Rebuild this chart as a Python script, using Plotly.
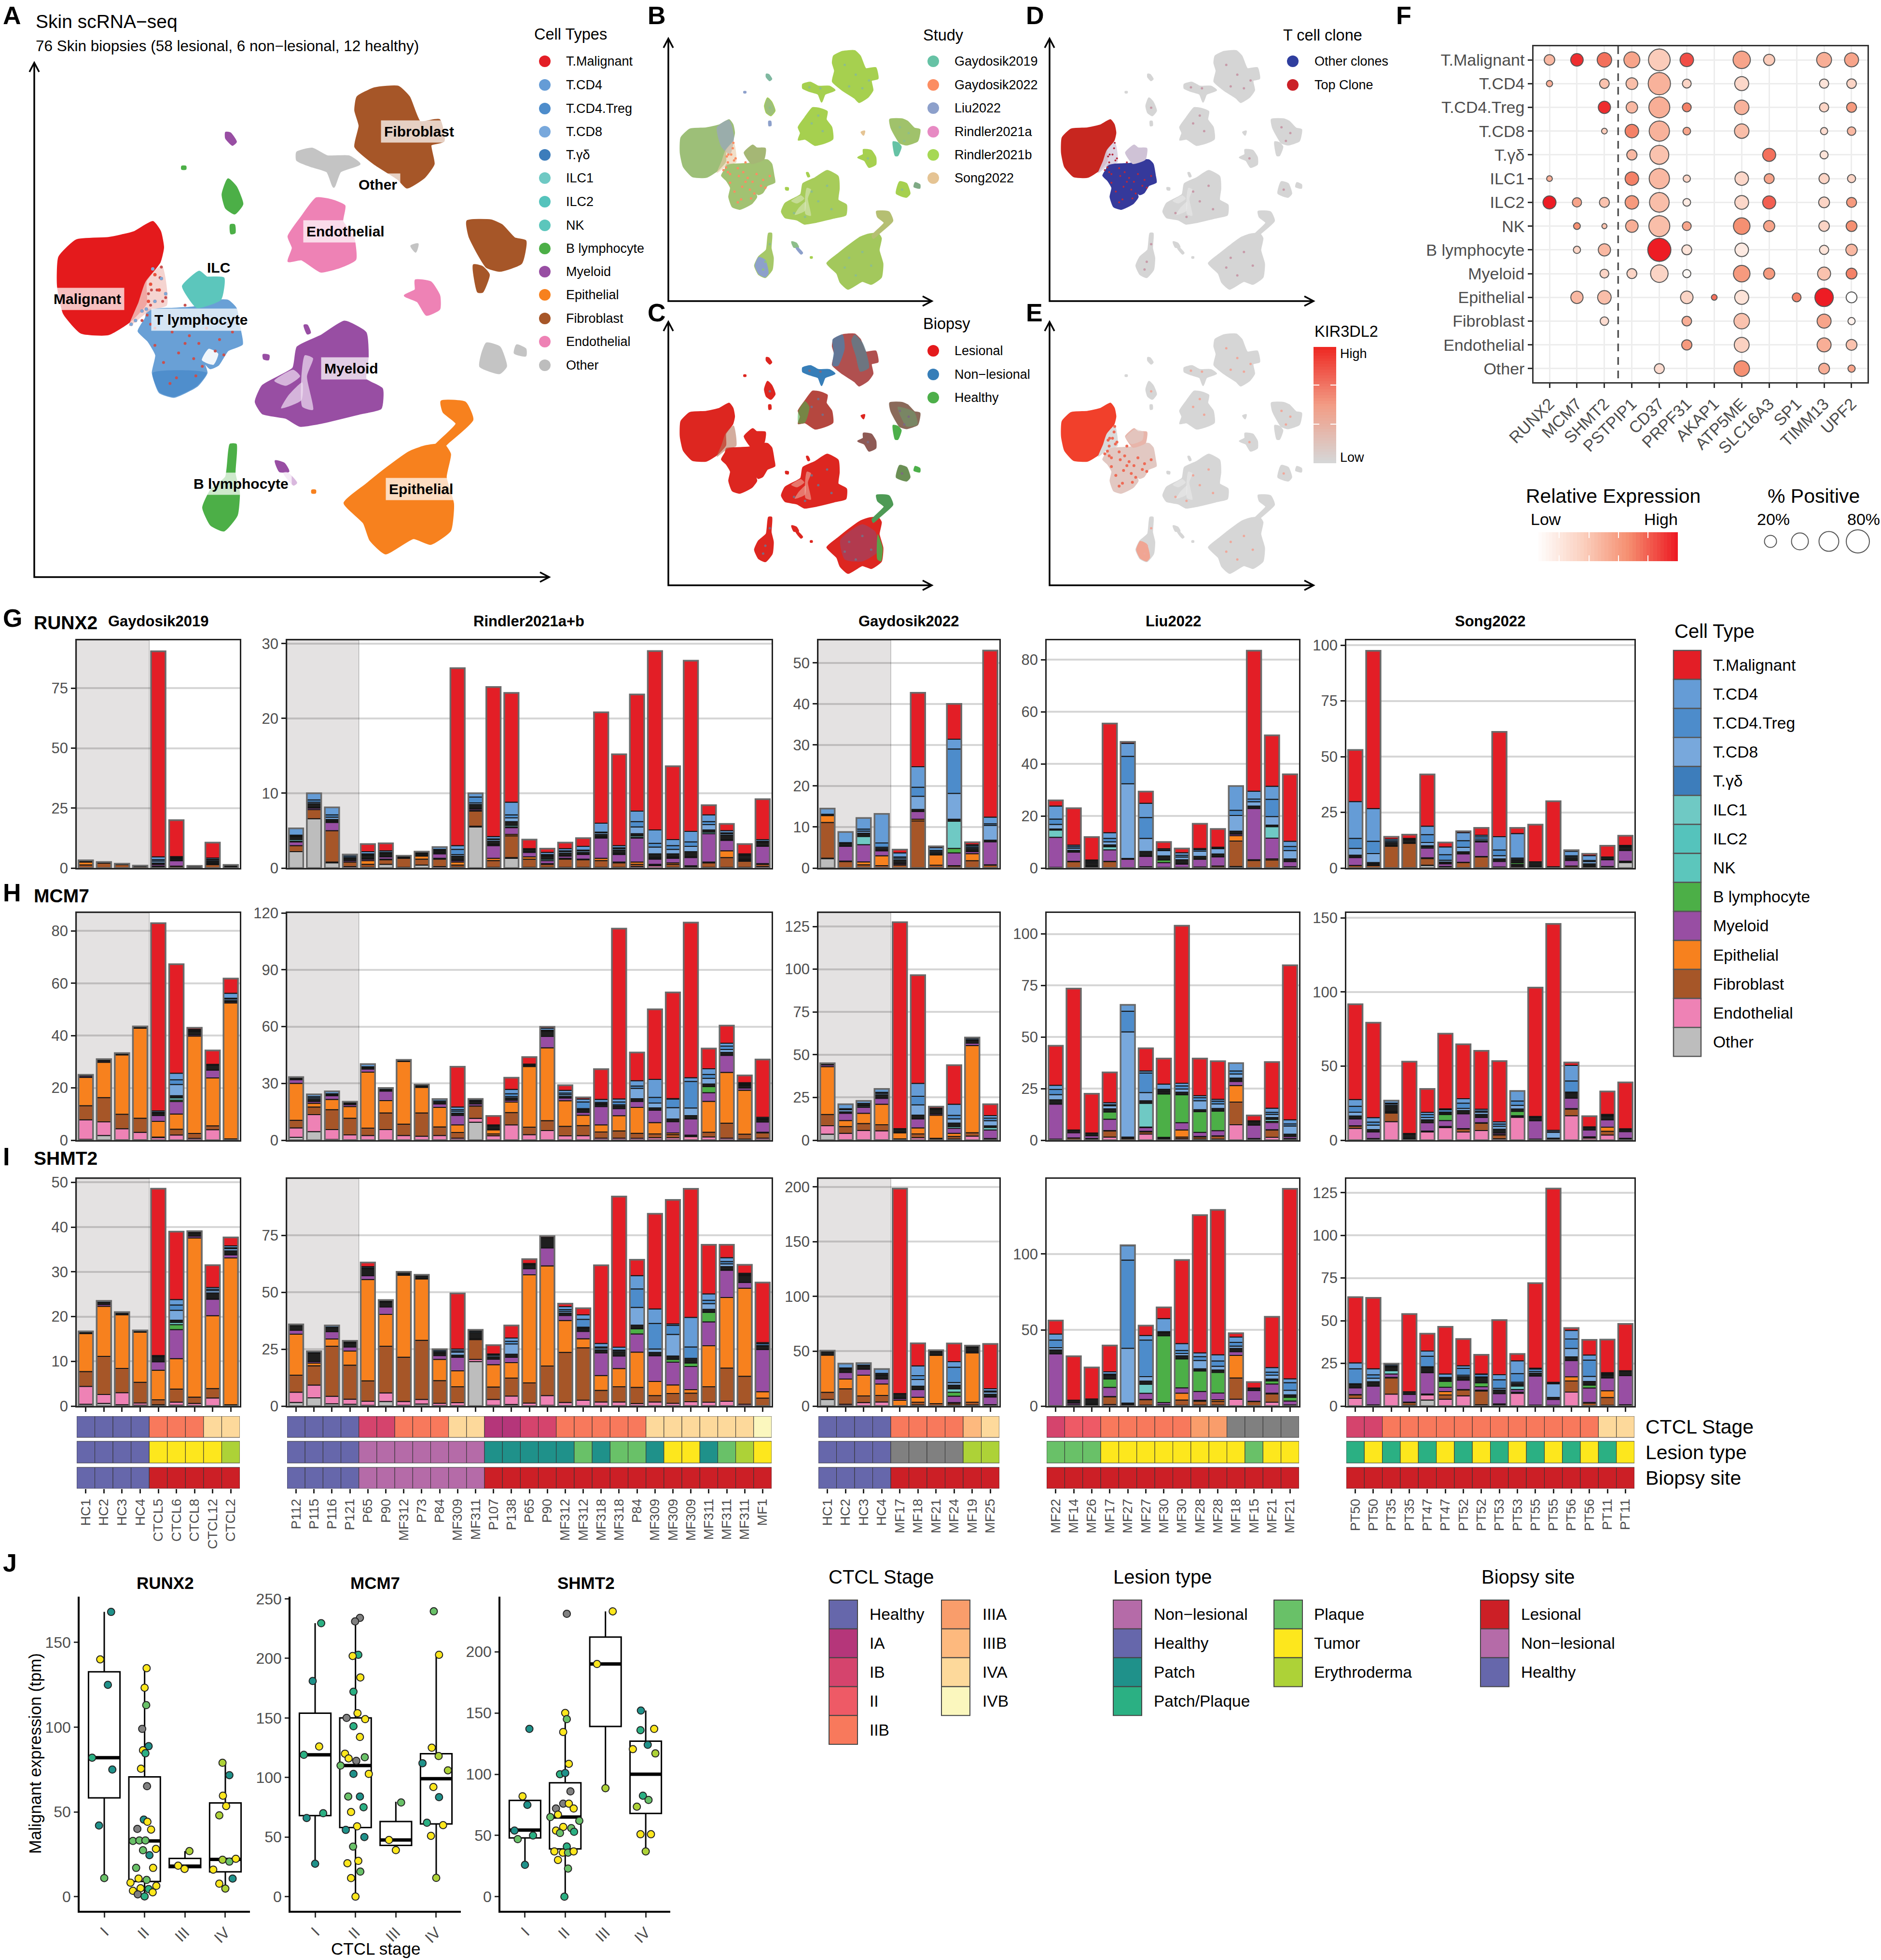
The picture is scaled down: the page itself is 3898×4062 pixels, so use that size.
import plotly.graph_objects as go

W, H = 3898, 4062
FONT = "Liberation Sans"
GRAY = "#4d4d4d"

# ---------- colours ----------
CELL_NAMES = ["T.Malignant", "T.CD4", "T.CD4.Treg", "T.CD8", "T.γδ", "ILC1", "ILC2", "NK", "B lymphocyte",
              "Myeloid", "Epithelial", "Fibroblast", "Endothelial", "Other"]
CELL_COLORS = ["#E31E26", "#659CD6", "#4D8CCB", "#78A8DC", "#3D7DBB", "#6FC9C4", "#55C3BC", "#5CC6BC", "#4CAF47",
               "#984EA3", "#F7811E", "#A65628", "#EE82B5", "#BDBDBD"]
# stack order of the bar rows, bottom to top. "dark" holds the many thin populations that read as a black band
STACK_NAMES = ["Other", "Endothelial", "Fibroblast", "Epithelial", "Myeloid", "B lymphocyte", "NK", "dark",
               "T.CD8", "T.CD4.Treg", "T.CD4", "T.Malignant"]
STACK_COLORS = ["#BDBDBD", "#EE82B5", "#A65628", "#F7811E", "#984EA3", "#4CAF47", "#6FC9C4", "#1E1E1E",
                "#78A8DC", "#4D8CCB", "#659CD6", "#E31E26"]
STAGE = {"H": "#6667AB", "IA": "#B5367A", "IB": "#D5446D", "II": "#EE5A66", "IIB": "#F8795C", "IIIA": "#F99D6B",
         "IIIB": "#FDB97E", "IVA": "#FDD99B", "IVB": "#FBF7BE", "NA": "#808080"}
LESION = {"NL": "#B56BA8", "H": "#6667AB", "P": "#1F918A", "PP": "#2BB083", "PQ": "#69C168", "T": "#FDE71D",
          "E": "#ADD237", "NA": "#808080"}
SITE = {"L": "#CC1F26", "NL": "#B56BA8", "H": "#6667AB"}

# ---------- panels G, H, I : rows follow STACK_NAMES ----------
RUNX2_GAY19 = [
 [0,.1,1.2,1.2,.2,0,0,.1,.1,.1,.2,0],[0,.1,1.9,.2,.1,0,0,.1,0,0,.1,0],[0,.1,1.3,.1,.1,0,0,.1,0,0,.1,0],
 [0,0,.6,.1,.1,0,0,.1,0,0,.1,0],[0,.2,.4,.2,.7,.1,.2,.3,.8,.6,1.2,85.7],[0,.1,.6,.1,2.2,.1,.2,.5,.4,.3,.3,15.2],
 [0,0,.3,.1,.1,0,0,.2,0,0,.2,0],[0,.1,1.3,.2,.4,0,.2,.6,.5,.3,.6,6.4],[0,.1,.3,.1,.2,0,0,.3,.1,0,.2,0]]
RUNX2_RIND = [
 [2.2,0,.8,0,.5,.1,.2,.4,.1,.1,.9,0],[6.6,0,1.2,0,.2,0,.1,.5,.2,.3,.9,0],[.7,.1,4.2,0,1.1,.1,.1,.2,.3,.3,1,0],
 [0,.2,.6,0,.2,0,.1,.2,.1,.2,.2,0],[0,.1,.4,.5,.2,0,.1,.4,.1,.1,.3,1],[.5,0,.6,.1,.3,0,.1,.3,.1,.1,.2,1],
 [0,.1,1.2,.1,.1,0,0,.1,.05,0,0,0],[.4,0,.8,.4,.1,0,0,.2,.1,.1,.1,0],[0,.2,1,.1,.6,.1,.1,.2,.1,.1,.3,0],
 [0,.1,.3,.4,.2,0,.1,.5,.2,.7,.5,23.7],[5.5,.1,2,.1,.2,0,.1,.5,.2,.8,.5,0],[0,.1,.9,.3,1.7,.1,.1,.4,.2,.1,.3,20],
 [1.3,.1,2.9,.2,.9,.1,.2,.5,.5,.4,1.7,14.6],[0,.1,1.1,.3,.6,0,.1,.3,.1,0,0,1.2],[0,.1,.4,.1,.4,0,.2,.4,.1,.1,.3,.5],
 [0,.1,1.1,.1,.3,0,.1,.3,.2,.1,.3,.8],[0,.1,1,.1,.6,0,.1,.2,.2,.1,.5,1.1],[0,.1,.9,.3,2.7,.1,.1,.3,.2,.1,1.2,14.8],
 [0,.1,.6,.1,1,.1,.1,.4,.2,.1,.3,12.2],[0,.2,.3,.3,3.2,.1,.2,.3,.9,.7,1.4,15.6],[0,.3,.1,.1,.7,.1,.1,.5,.9,.5,1.8,23.9],
 [0,.1,.4,.2,.6,.1,.1,.4,.6,.5,.8,9.8],[0,.1,.1,.1,1.1,0,.1,.7,.7,.6,1.4,22.8],[0,.1,.6,.1,3.8,0,.2,.3,.7,.4,.9,1.3],
 [0,.1,1.3,.9,1.4,0,.1,.6,.2,.1,.3,.9],[0,.1,.8,.1,.1,0,.1,.5,.1,0,.1,1.3],[0,.2,.3,.1,2.3,0,.1,.4,.1,.1,.2,5.4]]
RUNX2_GAY22 = [
 [2.3,.1,8.7,1.7,.1,0,0,.1,.1,0,1.4,0],[0,.1,1.5,.1,3.6,0,.1,.6,.1,.1,2.6,0],[0,.1,.7,.7,4.2,0,2,.8,.5,.5,2.7,0],
 [0,.1,.5,2.4,1.2,0,.1,.5,.3,1,7.1,0],[0,.1,.6,.1,.3,0,.1,.8,.4,.3,1,.8],[0,.1,11.4,.4,1.9,0,.1,.4,3.2,2.2,5,18],
 [0,.1,.6,2.5,.1,0,0,.5,.3,.2,.7,.3],[0,.1,.4,.1,3.1,1.1,6.6,.5,6.3,10.8,2.4,8.6],[0,.1,1.7,1.7,.5,.1,.1,.6,.3,.3,.3,.6],
 [0,.1,.6,.1,5.6,0,.1,.3,3.6,.4,1.6,40.6]]
RUNX2_LIU = [
 [0,.1,.1,.1,11.5,0,2.8,.4,1.8,2,5,2.2],[0,.1,2.3,.2,3.5,0,.1,.6,.8,.6,.6,14.2],[0,.1,.3,.1,.3,0,.1,1.2,.4,.3,.3,8.8],
 [0,.1,2.4,.1,4.4,0,1.2,.7,1.2,1.3,2.2,41.9],[0,0,.1,.1,3.2,0,0,.3,28.7,10.5,5,.6],[0,.3,.1,.1,4,.1,.1,1.7,5,8,5.5,4.5],
 [0,.1,.1,.1,1.8,1,.1,1.5,2,.3,.4,2.6],[0,.1,.1,.1,1.2,.1,.1,1.5,1,.7,1,1.6],[0,.1,.2,.1,3,0,.1,1,2,.6,.4,9.5],
 [0,.1,.6,.1,3.5,0,.1,1,2,.3,.3,7],[.5,.1,9.8,2,.6,0,.1,1.1,6,2,9.3,0],[0,.1,2.8,.3,19.7,0,.1,.8,1.7,1,3,54],
 [0,.1,3,.4,8,0,4.4,.6,3.3,6.6,5,19.6],[0,.1,.3,.1,2,0,.1,.9,3.2,1.6,2,25.7]]
RUNX2_SONG = [
 [0,.1,1,.1,3.5,0,.1,1,3,4.5,16.5,23.2],[0,.1,1,.2,.5,0,.1,.6,4,5.5,14.7,70.8],[0,.1,9.7,.1,.2,0,.1,1,.5,.6,.7,1],
 [0,.1,11,.2,.1,0,.1,1.2,.2,.2,.2,1.7],[1.2,.1,3,.3,4.4,0,.5,.5,1.5,3.5,3.8,23.2],[0,.2,.4,.1,1.2,0,.2,.6,.8,2.5,3.5,2],
 [0,.1,2.4,.1,3.8,0,.1,.8,2,3,3.6,.6],[0,.2,4.8,.2,6.5,0,.1,.5,.7,1,.7,3.3],[0,.1,.3,.1,2.5,0,.1,1,1.5,2.5,6,47],
 [0,.5,.5,.2,.5,.7,.3,.8,.5,.5,11,2.5],[0,.1,.2,.1,.3,0,.1,2,0,0,0,16.7],[0,.1,.1,.1,.1,0,0,.2,0,0,0,29.4],
 [0,.2,.6,.1,2.5,0,.1,1,.5,.5,2,.5],[0,.1,.3,.1,.3,0,.1,1,1,.5,2.2,.8],[0,.2,.4,.1,3,0,.1,1.2,0,0,0,5],
 [2.5,.1,.4,.1,4.8,0,.1,1.5,.3,.2,.2,4.3]]

MCM7_GAY19 = [
 [.3,7.5,5.4,10.8,.5,0,0,.3,0,0,.2,0],[1.8,5.2,9.3,13.5,.4,0,0,.4,.1,0,.3,0],[.2,4.2,5.5,22.7,.2,0,0,.3,0,0,.2,0],
 [.2,2.8,5.4,34.4,.1,0,0,.3,0,0,.3,0],[0,1,.2,6,2.2,0,.1,.7,.3,.2,.5,71.8],[0,2,2.2,5.8,4.8,.5,.9,.8,4.3,1.8,2.5,41.7],
 [0,.7,1.9,37.2,.5,0,0,1.2,.3,.2,.4,.6],[0,4,1.5,18.3,3,0,.1,1.7,0,.2,.2,5.3],[0,.2,.3,52,.4,0,.1,.4,.6,.3,1.9,5.6]]
MCM7_RIND = [
 [1.5,5,4,19.5,2,0,0,.5,.1,0,.2,.5],[4.5,9,4,2,1,0,.1,1,.7,.7,1.2,0],[.4,5.2,10.5,5.4,2,0,.1,.4,.3,.2,1.3,0],
 [.2,2.6,8.8,6.2,1,0,.1,.4,.3,.1,.6,0],[.1,2.4,3.9,29.5,1.7,0,0,.7,.3,.2,1.4,0],[.1,5.5,8.8,6.5,5,0,0,.7,.2,.1,.7,0],
 [.1,2.4,6,33,.2,0,0,.3,.1,0,.3,0],[.1,2,12.3,13.5,.4,0,0,.5,.1,0,.5,0],[.1,2.4,4.5,10.3,1.8,0,0,.8,.6,.2,1,0],
 [.1,1,3,4,5,.1,.1,1,1,.8,1.4,21.3],[9.5,2,6.5,.1,1,0,0,1.5,.3,.2,.6,.1],[.1,2.2,1,2.2,.3,0,0,1.8,.2,0,.3,4.7],
 [.1,8,6.5,5.5,1,.1,.1,1,.7,1.5,2.3,6.2],[.1,2.8,4,32,.5,0,0,.5,.1,0,.2,3.7],[.1,5,5.2,38.5,6,0,0,2.5,.5,.3,1,.8],
 [.1,2.2,5,13.5,1.5,0,.1,.7,1,.8,1.4,2.7],[.1,2.3,5.3,5.5,1.5,0,0,1.5,.5,3.5,1.5,.9],[.1,1,3.2,3.8,9.7,0,.1,1,.5,.6,1.5,16],
 [.1,1,3.8,8,3.8,0,.1,1.3,.6,1.5,1.6,89.9],[.1,.9,2.6,13.7,3.2,0,.1,1.3,5.5,1.2,2.8,14.9],[.1,1.2,2,6,6.5,0,.1,1.2,2.5,3,9.5,37],
 [.1,1.2,1.7,.8,6,0,.2,1.2,6,4.5,.3,56],[.1,1.8,.4,.4,8.5,0,.1,1.7,4,14,2,81.9],[.1,1.6,2.5,16.3,4.6,3.2,.2,1.2,3,2,3,10.7],
 [.1,1,7.9,26.8,9,0,.1,1.5,1.5,1.8,1.5,9.3],[.1,.5,2.6,23.2,1.2,0,.1,1.2,.5,.5,.5,3.8],[.1,1,2.8,.3,5.4,0,.1,1,.5,.3,.6,30.5]]
MCM7_GAY22 = [
 [3.5,5,6.5,28,1,0,0,.5,0,0,.5,0],[.2,3.8,4,3.5,4.2,0,.1,.8,1.2,.6,2.6,0],[.2,5.5,4,6,3.5,0,.7,.5,.6,.5,1.5,0],
 [.2,5.3,3.5,12,3.5,0,.1,2,.8,.6,2,0],[0,.5,.3,3.5,.4,0,0,1.8,0,0,.3,120.7],[0,1.5,2.2,3.5,5.2,0,.1,2.2,6,5,7.5,63.3],
 [0,.5,.6,13.5,.8,0,0,2.5,.3,.2,.3,.9],[0,.7,1.5,1.8,3,0,1,2,2.5,2,6.5,22.9],[0,2.4,2,51,1.3,0,0,1.5,.3,.2,.8,.5],
 [0,.3,.5,.2,5,0,1.5,.9,3,1.5,1.5,6.6]]
MCM7_LIU = [
 [0,.2,.2,.1,17,0,.1,2,2.5,2.5,2,19.2],[0,.2,.8,.1,2.5,0,0,1.2,0,0,.2,68.5],[0,.5,.3,.1,1.2,0,0,1.2,0,0,.2,19],
 [0,1.5,3,.2,5.5,3.5,0,1.5,1.5,.5,1,14.7],[0,.1,.7,.1,.2,0,0,.4,51,10,3,.1],[0,3,1,.3,1.8,.3,11.5,1.2,4,9.5,1,11],
 [0,.5,.5,.2,.2,21,.1,1.2,.5,.5,2.5,12.4],[0,.7,.8,3.5,3.5,13.5,.1,1.2,1.5,1.5,1.3,76.4],[0,.6,1,.2,2,10,.1,.9,4.3,1.5,1,18],
 [0,.5,1.5,.1,2.5,9.5,.1,1.2,2.2,1.3,.9,18.5],[0,7.5,11,8,2,0,.1,1.5,2,1.5,3.8,0],[0,.3,.4,.1,6.5,0,.1,1.5,.2,.1,.2,2.6],
 [0,1.4,3.5,.2,3.5,.5,1,.9,1.5,1,2,22.4],[0,.3,.3,.2,1,0,.1,1,4,1,2,74.9]]
MCM7_SONG = [
 [0,8,1.5,.3,4.5,0,.1,2,2.5,4,4.5,64.4],[0,.5,.4,.2,4.5,0,.1,1.5,3,2,3,64.1],[0,12.5,5.8,.5,.5,0,.2,4,.9,.6,1.7,0],
 [0,.3,.4,.1,.6,0,.1,2.5,.2,.1,.3,48.4],[0,5.5,.5,.2,5.5,0,.1,2,1.5,2,1.5,15.8],[0,8.5,.6,.2,4,4,.5,.8,.4,1.5,.7,50.7],
 [0,5.5,2,.3,10,.1,.1,2,1.5,3.5,3,36.7],[0,6.5,5,.3,3.5,0,.1,2,1.5,.8,1.2,39.4],[0,1,2.5,.3,1,0,.1,2.5,2,1.5,1.5,41],
 [0,15.5,.5,.2,.3,3,.1,1.5,2.4,3,6.7,0],[0,.3,.2,.2,12.5,0,.1,2,.3,.1,.3,87],[0,.1,.1,.1,.1,0,0,1,4,.3,1,139.3],
 [0,16.5,4.5,.3,7,0,.1,3.5,.6,7.5,10.5,1.9],[0,1.5,.6,.2,4.5,0,.1,1.5,.2,.1,.3,7.2],[0,3.5,2.5,2.8,5,0,.1,2.5,.4,.2,.4,15.5],
 [0,.5,.5,.3,4.5,0,.1,1.2,.2,.1,.3,31.3]]

SHMT2_GAY19 = [
 [.4,4,3.3,8.5,0,0,0,.3,0,0,.2,0],[.6,2,8.5,11.2,.4,0,0,.5,0,0,.3,0],[.3,2.7,5.4,12,.1,0,0,.4,0,0,.1,0],
 [.2,.5,4.6,11.2,.1,0,0,.2,0,0,.1,0],[.1,.2,1.1,6.6,1.9,0,.1,1,.1,.1,.1,37.3],[.2,.7,2.9,6.8,6.5,1.1,.5,.5,2.2,1.2,1.2,15.2],
 [.1,.5,1.4,35.6,.4,0,0,.7,.1,0,.1,.2],[.1,1.7,2.1,16.3,3.7,0,.1,1.3,.5,.3,.4,5],[0,.1,.2,32.8,.7,0,.1,.8,.5,.2,.4,1.9]]
SHMT2_RIND = [
 [1.6,4.5,7.5,18,1.7,0,0,2,.2,0,.4,0],[3.6,5.6,8.5,1.2,.6,0,.1,3.5,.2,.2,.6,0],[1,3.3,22,3.2,3.2,0,0,1.8,.2,0,.7,0],
 [.8,2.2,15,6.2,1.8,0,0,1.7,.4,.2,.4,0],[.3,1.8,9,44.5,1.7,0,0,3,.3,.2,.5,1.8],[2,3.8,20.5,14,3.3,0,0,2,.3,.2,.5,0],
 [.3,1.7,19.5,36,.3,0,0,1,.1,0,.1,0],[.9,2,26,27,.2,0,0,1.2,.1,0,.3,0],[.2,1,10,9.3,1.7,0,.1,.8,.5,.5,.5,.4],
 [.2,1.3,7,7,6,0,.1,.8,1.3,.6,.8,24.4],[19.5,1,8.7,.1,.3,0,0,2.8,.5,.2,.4,0],[.3,2.6,5.5,9.8,2.4,0,.1,1,.6,.3,.3,3.9],
 [.7,3.7,7.9,6.8,2.3,0,.1,1.3,4.5,1.2,1.4,5.5],[0,1.3,8.9,47.5,2.7,0,0,1.7,.2,.1,.3,1.9],[.3,4.3,13,44,7.9,0,0,4.5,.1,0,.1,.5],
 [.2,1.4,22,14,2.2,0,.1,1,.8,.7,1.3,1.3],[.1,2.5,23,4,3.2,0,0,1.5,.4,3.4,2,2.9],[.1,1.7,5.1,6.5,10,0,.1,1.2,.8,.5,1.5,34.4],
 [.1,1.7,6.7,8,5.5,0,.1,1.8,.5,.2,1.3,66.2],[.1,1,7.1,15.5,8,2.3,.1,1.5,7.8,8.1,5.8,7],[.1,1.7,2.8,6.2,11.3,0,.1,1.4,1.5,11.2,6.4,41.8],
 [.1,1.1,4.3,3.8,10,1.2,.1,1.4,9.5,4,.6,54.5],[.1,1.8,3.8,1.5,10.2,1.5,.1,1.5,.5,5,13,56.5],[.1,1.6,6.8,18,10.5,4.2,.1,1.2,2.5,1.5,2.8,21.6],
 [.1,2,14.6,31,12,0,.1,1.5,1.2,1,1.7,5.7],[.1,.7,12.3,38.7,2.5,0,.1,3,.3,.2,.5,3.7],[.1,0,3.4,2.8,18.5,0,.1,1.4,.3,.8,.5,26.4]]
SHMT2_GAY22 = [
 [6,0,6.5,34,0,0,0,3.5,0,0,.5,0],[.5,1.2,14,9,6,0,.1,3,.5,.5,4,0],[.2,3,6,19,5.5,0,.1,3,.3,.2,1.9,0],
 [.2,3.5,6,10.5,4.5,0,.1,3.5,1,.5,4,0],[0,0,.3,5,1.5,.2,.5,3.5,.2,0,.3,187],[0,1,2.5,4.5,7,0,.2,3,6,3.5,9,20.5],
 [0,.2,2,44,.5,0,0,3,.3,.1,.5,.4],[0,1,1.5,.7,5.8,3.7,3,3.3,2.5,14,5,16.6],[0,1,2.5,45,1,0,0,4,.3,.1,.4,.9],
 [0,.4,.8,.1,7,0,.5,2,2,1,2,40.9]]
SHMT2_LIU = [
 [0,.1,.1,.1,34,0,.1,2.5,1.5,5,4,8.9],[0,.4,.3,.2,1,0,.1,1.8,0,0,.1,28.9],[0,.3,.3,.1,.5,0,0,3.5,0,0,0,20.7],
 [0,1,5,.3,6,5.5,.1,2.5,.3,.3,1.5,17.3],[0,.1,.5,.1,.3,0,0,1,36,58,9.5,.3],[.1,.5,3.5,.3,4,0,6,2,3,24,3,6.5],
 [0,.2,.5,.1,1.5,44,.1,1.8,.5,.3,8.5,7.4],[0,.5,3.5,4.5,3.5,19,.1,2,1.5,2,4.5,55],[0,.6,2.6,.6,5.8,13.5,.1,1.3,5.5,2.5,2.5,90.6],
 [0,.6,2.5,1,4.5,13.5,.1,1.5,2.5,3.5,4,95.3],[0,4.5,14,14.8,2.5,0,.1,2,1.5,2.5,3.5,2.5],[0,.2,2.8,.2,7,0,.1,1.4,.1,0,.1,3.9],
 [0,2.5,5.5,.5,6,2,.1,1.2,2.5,2,3,33.4],[0,.3,.3,.2,2.5,2.5,.1,1.5,3,5,2.5,125]]
SHMT2_SONG = [
 [0,4.5,2,.2,4,0,.1,2,.3,8.7,3.5,38.5],[0,.3,.2,.2,11,0,.1,2.5,2,2,3.5,41.6],[0,7,9.5,.3,2,0,2,2,.4,.4,.8,.4],
 [0,.5,1.5,.3,4.5,0,.1,1.5,0,0,0,45.5],[3.5,3,.3,.3,12.5,0,.1,3,.3,6.2,3,10.2],[0,4,2.5,2,2.5,3.5,.5,1,.3,.5,2,27.6],
 [0,6,3.5,.2,5.5,0,.1,2,.8,4,1.5,15.7],[0,.8,8,.5,2,2.3,.1,3,.4,1.5,.2,11.2],[0,.5,.5,.3,6,0,.1,2,1,5,3,32],
 [0,7.5,.4,.2,1.5,.1,2,1.5,.8,5,7.5,4],[0,.2,.2,.2,17,0,.1,1.5,1,1.5,.5,49.8],[0,.1,.2,.1,3.5,0,0,1.2,8,.3,.5,113.5],
 [0,8.2,6.5,2.5,9.5,0,.1,2,5,5.5,5,1.4],[0,.3,1.5,.3,8.5,1.7,.1,2,3,9.5,3,8.9],[0,.5,4.5,4,7.5,0,.1,1.5,.5,.5,.5,19.3],
 [0,.3,.3,.2,17,0,.1,2.5,.1,.1,.1,27.4]]

STUDIES = ["Gaydosik2019", "Rindler2021a+b", "Gaydosik2022", "Liu2022", "Song2022"]
SAMPLES = [
 ["HC1","HC2","HC3","HC4","CTCL5","CTCL6","CTCL8","CTCL12","CTCL2"],
 ["P112","P115","P116","P121","P65","P90","MF312","P73","P84","MF309","MF311","P107","P138","P65","P90","MF312","MF312",
  "MF318","MF318","P84","MF309","MF309","MF309","MF311","MF311","MF311","MF1"],
 ["HC1","HC2","HC3","HC4","MF17","MF18","MF21","MF24","MF19","MF25"],
 ["MF22","MF14","MF26","MF17","MF27","MF27","MF30","MF30","MF28","MF28","MF18","MF15","MF21","MF21"],
 ["PT50","PT50","PT35","PT35","PT47","PT47","PT52","PT52","PT53","PT53","PT55","PT55","PT56","PT56","PT11","PT11"]]
STAGE_ROWS = [
 ["H"]*4+["IIB"]*3+["IVA"]*2,
 ["H"]*4+["IB"]*2+["IIB"]*3+["IVA"]*2+["IA"]*2+["IB"]*2+["IIB"]*5+["IVA"]*6+["IVB"],
 ["H"]*4+["IIB"]*4+["IIIB","IVA"],
 ["IB","II","II"]+["IIB"]*5+["IIIA"]*2+["NA"]*4,
 ["IB"]*2+["IIB"]*12+["IVA"]*2]
LESION_ROWS = [
 ["H"]*4+["T"]*4+["E"],
 ["H"]*4+["NL"]*7+["P"]*5+["PQ","P","PQ","PQ","P","T","T","P","PQ","E","T"],
 ["H"]*4+["NA"]*4+["E"]*2,
 ["PQ"]*3+["T"]*8+["PQ","T","T"],
 ["PP","T"]*8]
SITE_ROWS = [
 ["H"]*4+["L"]*5,
 ["H"]*4+["NL"]*7+["L"]*16,
 ["H"]*4+["L"]*6,
 ["L"]*14,
 ["L"]*16]
HEALTHY_COUNT = [4, 4, 4, 0, 0]

GENE_ROWS = [
 ("RUNX2", [RUNX2_GAY19, RUNX2_RIND, RUNX2_GAY22, RUNX2_LIU, RUNX2_SONG],
  [[0,25,50,75],[0,10,20,30],[0,10,20,30,40,50],[0,20,40,60,80],[0,25,50,75,100]], [95.0,30.43,55.5,87.5,102.2], 1327, 1799),
 ("MCM7", [MCM7_GAY19, MCM7_RIND, MCM7_GAY22, MCM7_LIU, MCM7_SONG],
  [[0,20,40,60,80],[0,30,60,90,120],[0,25,50,75,100,125],[0,25,50,75,100],[0,50,100,150]], [86.9,120,132.9,110.2,153.4], 1892, 2363),
 ("SHMT2", [SHMT2_GAY19, SHMT2_RIND, SHMT2_GAY22, SHMT2_LIU, SHMT2_SONG],
  [[0,10,20,30,40,50],[0,25,50,75],[0,50,100,150,200],[0,50,100],[0,25,50,75,100,125]], [50.8,99.9,207.4,149.5,133.1], 2443, 2914)]
STUDY_X = [(159,497),(595,1599),(1696,2071),(2169,2692),(2790,3387)]

# ---------- panel F ----------
DOT_GENES = ["RUNX2","MCM7","SHMT2","PSTPIP1","CD37","PRPF31","AKAP1","ATP5ME","SLC16A3","SP1","TIMM13","UPF2"]
_ = None
DOT_PCT = [
 [17,24,32,39,72,28,_,46,19,_,34,30],[6,_,14,21,76,12,_,30,_,_,13,14],[_,_,23,20,67,12,_,32,_,_,13,15],
 [_,_,5,28,63,9,_,32,_,_,8,11],[_,_,_,16,55,_,_,_,26,_,10,_],[5,_,_,28,63,8,_,28,15,_,16,10],
 [26,13,15,28,59,9,_,29,26,_,18,15],[_,7,4,24,67,12,_,42,19,_,17,18],[_,8,23,_,82,15,_,28,_,_,13,20],
 [_,_,12,15,47,10,_,42,19,_,26,18],[_,23,28,_,_,24,5,30,_,12,52,18],[_,_,11,_,_,14,_,37,_,_,30,8],
 [_,_,_,_,_,16,_,34,_,_,30,18],[_,_,_,_,15,_,_,37,_,_,18,8]]
DOT_EXPR = [
 [.45,.95,.75,.55,.35,.85,_,.55,.35,_,.5,.55],[.5,_,.4,.42,.48,.3,_,.28,_,_,.2,.3],[_,_,.95,.45,.5,.7,_,.48,_,_,.3,.6],
 [_,_,.35,.7,.48,.55,_,.42,_,_,.25,.45],[_,_,_,.45,.4,_,_,_,.75,_,.2,_],[.5,_,_,.7,.45,.3,_,.28,.55,_,.3,.3],
 [1,.55,.4,.6,.42,.15,_,.28,.8,_,.3,.6],[_,.65,.4,.5,.42,.55,_,.65,.55,_,.3,.65],[_,.3,.45,_,1,.2,_,.15,_,_,.2,.45],
 [_,_,.3,.3,.3,.05,_,.6,.6,_,.4,.7],[_,.45,.42,_,_,.3,.75,.2,_,.7,1,0],[_,_,.25,_,_,.5,_,.4,_,_,.55,.1],
 [_,_,_,_,_,.6,_,.32,_,_,.5,.4],[_,_,_,_,.25,_,_,.65,_,_,.5,.55]]

# ---------- panel J : (stage, jitter, tpm, lesion type) ----------
RUNX2_POINTS = [
 (1,.17,168,"P"),(1,-.10,140,"T"),(1,.09,125,"P"),(1,-.30,82,"PP"),(1,.20,75,"P"),(1,-.13,42,"P"),(1,0,11,"PQ"),
 (2,.05,134.8,"T"),(2,0,123.3,"T"),(2,.04,113,"PQ"),(2,-.06,99,"NA"),(2,.10,88.8,"P"),(2,-.04,86.4,"T"),(2,.02,84.6,"PP"),
 (2,-.09,75.5,"T"),(2,.06,65.2,"NA"),(2,-.02,45.5,"P"),(2,.07,44.2,"T"),(2,-.18,40,"NA"),(2,.16,39.6,"T"),(2,-.29,32.9,"PQ"),
 (2,-.13,33.2,"PQ"),(2,.02,33.2,"PQ"),(2,-.04,27.4,"PQ"),(2,.28,28.2,"T"),(2,.12,24.5,"P"),(2,-.21,17,"PQ"),(2,.21,17,"T"),
 (2,-.15,10.7,"T"),(2,.05,9.9,"PQ"),(2,-.35,8.3,"T"),(2,-.29,3.5,"T"),(2,-.10,5,"T"),(2,.10,4.5,"PP"),(2,.29,6.4,"T"),
 (2,.2,2.6,"T"),(2,-.17,1.4,"NA"),(2,0,.2,"PP"),
 (3,.11,26.9,"E"),(3,-.17,18.3,"T"),(3,-.01,16.4,"T"),
 (4,-.07,79,"E"),(4,.1,71.7,"P"),(4,-.06,59.6,"T"),(4,.02,53.5,"T"),(4,-.15,48,"E"),(4,-.07,21.8,"E"),(4,.1,20.7,"PQ"),
 (4,.26,22.4,"T"),(4,-.3,16,"T"),(4,-.15,7.7,"T"),(4,.18,10.7,"P"),(4,0,4.8,"E")]
MCM7_POINTS = [
 (1,.15,229.5,"PP"),(1,-.06,181,"P"),(1,.1,126,"T"),(1,-.28,119,"PP"),(1,.2,70,"PP"),(1,-.21,66,"P"),(1,0,27.6,"P"),
 (2,.11,234,"NA"),(2,-.01,231,"NA"),(2,.07,203,"PP"),(2,-.07,202,"T"),(2,.12,184,"T"),(2,-.05,172,"PP"),(2,.05,154,"T"),
 (2,-.22,150,"NA"),(2,.24,149,"T"),(2,-.05,143,"PP"),(2,.11,134,"T"),(2,-.26,120,"T"),(2,-.17,116,"T"),(2,.23,117,"PQ"),
 (2,.02,114,"NA"),(2,-.37,110,"PQ"),(2,-.05,103,"P"),(2,.33,103,"T"),(2,-.18,84,"PQ"),(2,.11,84,"P"),(2,.2,75,"PP"),
 (2,-.11,71,"T"),(2,.04,59,"T"),(2,-.24,56,"P"),(2,.22,50,"P"),(2,-.06,42,"PQ"),(2,.07,30,"T"),(2,-.2,28,"T"),(2,.12,21,"PQ"),
 (2,-.11,15.5,"T"),(2,0,0,"T"),
 (3,.13,79,"PQ"),(3,-.17,47.5,"T"),(3,0,39,"T"),
 (4,-.06,239.5,"PQ"),(4,.07,203,"T"),(4,-.11,125,"T"),(4,.06,118,"E"),(4,-.34,112,"P"),(4,.29,106,"E"),(4,-.07,92,"T"),
 (4,.07,83.5,"P"),(4,-.23,62,"PP"),(4,.17,60,"T"),(4,-.13,51,"T"),(4,0,15.7,"E")]
SHMT2_POINTS = [
 (1,.11,137,"P"),(1,-.06,82,"T"),(1,.06,75,"P"),(1,-.26,54,"P"),(1,.2,50,"PP"),(1,-.18,47,"PQ"),(1,0,26,"P"),
 (2,.04,231,"NA"),(2,0,150,"T"),(2,.04,145,"PQ"),(2,-.05,134.5,"T"),(2,.09,108.5,"T"),(2,-.13,100,"PP"),(2,0,101,"P"),
 (2,.13,86,"NA"),(2,-.23,72,"NA"),(2,-.05,76,"NA"),(2,.09,76,"T"),(2,.21,72,"T"),(2,-.18,67,"T"),(2,-.37,65,"PQ"),
 (2,.35,62,"PQ"),(2,-.05,57,"T"),(2,.15,56,"PQ"),(2,-.23,54,"T"),(2,.22,53,"PP"),(2,-.13,52,"PQ"),(2,.04,41,"PP"),
 (2,-.27,37,"T"),(2,-.06,36,"T"),(2,.07,36,"PQ"),(2,.21,37,"T"),(2,-.18,30,"T"),(2,.07,23,"PQ"),(2,-.02,0,"PP"),
 (3,.18,233,"T"),(3,-.21,190,"T"),(3,0,88.6,"E"),
 (4,-.12,152,"P"),(4,-.13,136,"PP"),(4,.21,137,"T"),(4,.05,124,"P"),(4,-.32,120.5,"T"),(4,.24,117,"E"),(4,-.07,82.5,"PP"),
 (4,.07,79,"PQ"),(4,-.22,73.5,"E"),(4,-.13,51,"T"),(4,.13,51,"T"),(4,0,37,"E")]
# q1, median, q3, lower whisker, upper whisker for stages I..IV
RUNX2_BOX = dict(q1=[58.3,9,17.2,14.7], med=[82,32.9,18,22], q3=[132.7,70.7,22.6,55.3], lo=[11,0,17.2,4.8], hi=[168,134.8,26.9,79])
MCM7_BOX = dict(q1=[68,58,43,61], med=[119,110,47.5,99], q3=[154,150,63,120], lo=[27.6,0,39,15.7], hi=[229.5,234,79.6,203])
SHMT2_BOX = dict(q1=[48,39,139,68], med=[54.4,65,190,100], q3=[78.6,93,212,127], lo=[26,0,88.6,37], hi=[78.6,150,233,152])
ROMAN = ["I","II","III","IV"]

# ---------- panels A to E : UMAP cluster outlines (x right, y down) ----------
U_MAL = [(138,674),(178,630),(252,624),(311,609),(355,582),(372,607),(379,649),(371,687),(339,737),(339,796),(301,843),(252,876),(189,872),(149,822),(135,750)]
U_T = [(344,813),(404,809),(453,805),(469,792),(529,788),(548,809),(558,868),(562,902),(529,918),(507,956),(488,965),(471,944),(480,977),(458,1011),(404,1040),(371,1028),(355,977),(363,931),(344,893),(322,868),(339,834)]
U_ILC = [(425,750),(463,712),(480,727),(519,729),(512,784),(458,805),(436,775)]
U_ENDO = [(670,620),(700,570),(735,520),(770,525),(800,540),(795,580),(820,620),(825,680),(790,700),(745,712),(700,680),(670,685),(680,650)]
U_FIB = [(825,290),(830,255),(870,232),(925,228),(950,255),(975,320),(1020,315),(1030,370),(1000,380),(1007,430),(985,465),(945,492),(925,470),(870,430),(825,385),(835,330)]
U_OTHER = [(690,400),(725,390),(760,410),(810,410),(835,430),(790,450),(775,490),(760,450),(720,435),(690,420)]
U_MYE = [(594,1053),(610,1011),(681,965),(691,910),(746,880),(800,843),(849,872),(854,935),(849,994),(887,1019),(884,1070),(838,1083),(746,1108),(697,1116),(664,1095),(610,1083)]
U_EPI = [(800,1318),(850,1270),(900,1225),(950,1185),(985,1170),(1030,1165),(1045,1190),(1035,1250),(1052,1320),(1045,1390),(1000,1425),(960,1410),(895,1450),(860,1415),(845,1370)]
U_EPI2 = [(1025,1052),(1080,1055),(1097,1100),(1040,1160),(1010,1190),(1005,1175),(1060,1110),(1030,1080)]
U_B = [(535,1165),(548,1165),(545,1240),(555,1290),(550,1350),(520,1390),(490,1375),(472,1330),(490,1285),(525,1250)]
U_B2 = [(530,470),(548,490),(563,535),(545,560),(525,545),(517,510)]
U_B3 = [(536,590),(544,590),(545,610),(537,612)]
U_FIB2 = [(1085,580),(1140,578),(1165,590),(1195,625),(1220,632),(1210,690),(1160,710),(1130,700),(1110,665),(1090,620)]
U_FIB3 = [(1100,695),(1120,700),(1135,720),(1120,765),(1110,765)]
U_ENDO2 = [(965,735),(1000,740),(1020,775),(1020,810),(990,825),(970,790),(940,775),(965,760)]
U_OTH2 = [(1130,900),(1160,910),(1175,960),(1160,978),(1115,960),(1120,925)]
U_OTH3 = [(1200,905),(1220,915),(1220,932),(1195,925)]
U_OTH4 = [(955,645),(970,640),(965,660)]
U_MY2 = [(525,348),(535,350),(548,372),(540,380),(525,362)]
U_MY3 = [(640,1208),(660,1215),(670,1235),(650,1235)]
U_MY4 = [(660,1240),(668,1240),(688,1265),(682,1270)]
U_MY5 = [(707,853),(713,853),(720,872),(714,874)]
U_MY6 = [(612,930),(624,932),(623,942),(613,940)]
U_DOT1 = [(423,437),(431,437),(431,443),(423,443)]
U_DOT2 = [(725,1285),(732,1285),(732,1291),(725,1291)]
GAP_1 = [(708,931),(727,939),(713,986),(727,1074),(702,1066),(700,986)]
GAP_2 = [(637,998),(681,969),(697,986),(664,1011)]
GAP_3 = [(670,1036),(702,1002),(700,1049),(653,1070)]
GAPS = (GAP_1, GAP_2, GAP_3)
NOTCH_T = [(469,944),(485,914),(507,927),(496,956)]
MIX_MT = [(339,737),(376,695),(388,800),(350,813),(300,855),(322,792)]
LOW_T = [(355,977),(480,977),(458,1011),(404,1040),(371,1028)]
PATCH_MAL_TOP = [(300,620),(355,582),(378,670),(360,760),(320,720)]
PATCH_B_LOW = [(490,1285),(520,1300),(535,1370),(520,1390),(490,1375),(472,1330)]
PATCH_FIB_L = [(825,255),(870,230),(880,300),(850,390),(825,390),(830,320)]
PATCH_FIB_R = [(925,230),(960,270),(975,310),(990,400),(950,420),(930,340),(910,260)]
PATCH_EPI_C = [(860,1280),(960,1200),(1020,1240),(1030,1340),(960,1390),(880,1380)]
PATCH_EPI_R = [(1030,1250),(1052,1320),(1045,1390),(1028,1380)]
PATCH_ENDO_L = [(670,620),(700,570),(720,600),(700,680),(670,685)]
PATCH_F2 = [(1120,600),(1195,625),(1210,690),(1160,700)]
PATCH_ILCD = [(425,755),(465,715),(505,728),(500,770),(450,790)]

SPECK_T = [(400,870),(430,900),(380,950),(450,940),(520,930),(500,920),(410,990),(360,860),(480,860),(540,870),(395,830),
           (350,800),(375,700),(365,760),(385,780),(350,850),(330,840),(430,800),(470,960),(420,850),(455,985),(395,1005),
           (510,890),(360,905),(345,770),(372,728),(352,760),(378,790),(342,826),(415,925),(440,880),(462,900)]
SPECK_MIX = [(360,720),(350,745),(370,760),(345,790),(375,730),(330,815),(315,840),(360,790),(385,770),(340,810),(305,850),(355,705)]
SPECK_ALL = [(880,300),(930,350),(960,420),(900,410),(990,380),(730,600),(780,640),(760,560),(1130,620),(1170,650),(1150,690),
             (730,950),(800,920),(760,1000),(820,1040),(650,1060),(700,1080),(900,1290),(960,1260),(1000,1330),(930,1380),
             (880,1340),(520,1310),(510,1350),(540,520),(985,780),(1140,940),(720,415),(770,420),(540,1220)]

CLUSTER_A = [(U_MAL,"#E41A1C"),(U_T,"#69A0D6"),(U_ILC,"#5CC6BC"),(U_ENDO,"#EE82B5"),(U_FIB,"#A65628"),(U_OTHER,"#C4C4C4"),
             (U_MYE,"#984EA3"),(U_EPI,"#F7811E"),(U_EPI2,"#F7811E"),(U_B,"#4CAF47"),(U_B2,"#4CAF47"),(U_B3,"#4CAF47"),
             (U_FIB2,"#A65628"),(U_FIB3,"#A65628"),(U_ENDO2,"#EE82B5"),(U_OTH2,"#C4C4C4"),(U_OTH3,"#C4C4C4"),(U_OTH4,"#C4C4C4"),
             (U_MY2,"#984EA3"),(U_MY3,"#984EA3"),(U_MY4,"#D9B8DE"),(U_MY5,"#984EA3"),(U_MY6,"#984EA3"),(U_DOT1,"#4CAF47"),(U_DOT2,"#F7811E")]
ALL_SHAPES = [c for c, _c in CLUSTER_A]

def recolor(base, special):
    out = []
    for poly in ALL_SHAPES:
        col = base
        for p, c in special:
            if p is poly:
                col = c
        out.append((poly, col))
    return out

def gaps(col, op):
    return [(g, col, op) for g in GAPS]

CLUSTER_B = recolor("#A6D04F", [(U_MAL,"#9DBF78"),(U_T,"#A2C272"),(U_ILC,"#A5B775"),(U_MYE,"#A7CC5A"),(U_EPI,"#A3C85C"),
                                (U_B,"#A6C869"),(U_EPI2,"#B5BF72"),(U_B3,"#8DA0CB"),(U_MY3,"#8DBE8A"),(U_FIB2,"#A0C26B"),
                                (U_FIB3,"#66C2A5"),(U_OTH3,"#7FAA85"),(U_OTH4,"#E5C494"),(U_MY2,"#7FB8A0"),(U_MY4,"#8DA0CB"),(U_DOT1,"#8DA0CB")])
OVER_B = [(PATCH_MAL_TOP,"#9AA9B8",.8),(PATCH_B_LOW,"#8DA0CB",1),(MIX_MT,"#E8C9A5",.6),(U_B2,"#8DA0CB",.35)] + gaps("#E4ECD0",.5)
CLUSTER_C = recolor("#DD2620", [(U_OTHER,"#377EB8"),(U_OTH3,"#4DAF4A"),(U_FIB,"#B0504F"),(U_FIB2,"#8A6A5A"),(U_ENDO,"#B5473F"),
                                (U_ENDO2,"#8E5A55"),(U_FIB3,"#4DAF4A"),(U_EPI2,"#4E9A55"),(U_OTH2,"#6B8F55")])
OVER_C = [(PATCH_FIB_L,"#4F7FA8",.8),(PATCH_FIB_R,"#5C7E8C",.8),(PATCH_EPI_C,"#A8405A",.8),(PATCH_EPI_R,"#4DAF4A",.9),
          (PATCH_ENDO_L,"#4DAF4A",.6),(PATCH_F2,"#6E9A6A",.6),(MIX_MT,"#B8765E",.6)] + gaps("#F2C7B8",.5)
CLUSTER_D = recolor("#D5D5D5", [(U_MAL,"#C8261F"),(U_T,"#35399B"),(U_ILC,"#CFC2D6")])
OVER_D = [(MIX_MT,"#D8CFE0",.9)] + gaps("#EDEDED",.5)
CLUSTER_E = recolor("#D6D6D6", [(U_MAL,"#F1402B"),(U_T,"#E2C8C2"),(U_ILC,"#E8B5AA")])
OVER_E = [(PATCH_B_LOW,"#F3A08C",.9),(PATCH_ILCD,"#E0CFCA",.6),(MIX_MT,"#DADADA",1)] + gaps("#EDEDED",.5)

LEG_STUDY = [("Gaydosik2019","#66C2A5"),("Gaydosik2022","#FC8D62"),("Liu2022","#8DA0CB"),("Rindler2021a","#E78AC3"),
             ("Rindler2021b","#A6D854"),("Song2022","#E5C494")]
LEG_BIOPSY = [("Lesional","#E41A1C"),("Non−lesional","#377EB8"),("Healthy","#4DAF4A")]
LEG_CLONE = [("Other clones","#2F3E9E"),("Top Clone","#CB2027")]
A_LABELS = [("Malignant",203,783,True),("T lymphocyte",467,838,True),("ILC",508,702,False),("Fibroblast",973,345,True),
            ("Other",877,484,True),("Endothelial",802,607,True),("Myeloid",816,966,True),("B lymphocyte",560,1268,True),
            ("Epithelial",978,1282,True)]

# ---------- helpers ----------
traces, shapes, annos = [], [], []
layout = {}
axn = [1]

def fx(x):
    return x / W

def fy(y):
    return 1 - y / H

def new_axes(x0, x1, ytop, ybot, xo, yo):
    axn[0] += 1
    n = axn[0]
    layout[f"xaxis{n}"] = dict(domain=[fx(x0), fx(x1)], anchor=f"y{n}", automargin=False, **xo)
    layout[f"yaxis{n}"] = dict(domain=[fy(ybot), fy(ytop)], anchor=f"x{n}", automargin=False, **yo)
    return f"x{n}", f"y{n}"

def text(x, y, s, size=27, color="black", bold=False, anchor="left", angle=0):
    annos.append(dict(x=fx(x), y=fy(y), xref="paper", yref="paper", text=f"<b>{s}</b>" if bold else s, showarrow=False,
                      xanchor=anchor, yanchor="middle", textangle=angle, font=dict(size=size, color=color, family=FONT)))

def circle(cx, cy, d, color, line=None):
    shapes.append(dict(type="circle", xref="paper", yref="paper", x0=fx(cx-d/2), x1=fx(cx+d/2), y0=fy(cy+d/2), y1=fy(cy-d/2),
                       fillcolor=color, line=dict(width=2 if line else 0, color=line or color)))

def rect(x0, y0, x1, y1, color, line="#333333", lw=2):
    shapes.append(dict(type="rect", xref="paper", yref="paper", x0=fx(x0), x1=fx(x1), y0=fy(y1), y1=fy(y0),
                       fillcolor=color, line=dict(width=lw, color=line)))

def polyline(pts, width=3.5):
    path = "M " + " L ".join(f"{fx(x)} {fy(y)}" for x, y in pts)
    shapes.append(dict(type="path", xref="paper", yref="paper", path=path, line=dict(color="black", width=width)))

def arrows(x0, x1, ytop, ybot):
    polyline([(x0, ytop), (x0, ybot), (x1, ybot)])
    polyline([(x0-10, ytop+19), (x0, ytop), (x0+10, ytop+19)])
    polyline([(x1-19, ybot-10), (x1, ybot), (x1-19, ybot+10)])

HIDE = dict(visible=False, showgrid=False, zeroline=False)

def umap_panel(x0, x1, ytop, ybot, clusters, overlays=(), specks=(), lw=4):
    xa, ya = new_axes(x0, x1, ytop, ybot, dict(range=[80, 1275], **HIDE), dict(range=[1512, 165], **HIDE))
    for poly, col in clusters:
        traces.append(go.Scatter(x=[p[0] for p in poly]+[poly[0][0]], y=[p[1] for p in poly]+[poly[0][1]], mode="lines",
                                 fill="toself", fillcolor=col, line=dict(color=col, width=lw, shape="spline", smoothing=.5), hoverinfo="skip", xaxis=xa, yaxis=ya))
    for poly, col, op in overlays:
        traces.append(go.Scatter(x=[p[0] for p in poly]+[poly[0][0]], y=[p[1] for p in poly]+[poly[0][1]], mode="lines",
                                 fill="toself", fillcolor=col, line=dict(color=col, width=0, shape="spline", smoothing=.6), opacity=op, hoverinfo="skip", xaxis=xa, yaxis=ya))
    for pts, col, size in specks:
        traces.append(go.Scatter(x=[p[0] for p in pts], y=[p[1] for p in pts], mode="markers",
                                 marker=dict(color=col, size=size, line=dict(width=0)), hoverinfo="skip", xaxis=xa, yaxis=ya))
    arrows(x0, x1, ytop, ybot)
    return xa, ya

# ---------- A-E ----------
xa_a, ya_a = umap_panel(71, 1138, 130, 1196, CLUSTER_A,
                        [(LOW_T,"#4D8CCB",.9),(NOTCH_T,"#ffffff",.9),(MIX_MT,"#F2C9C4",.8)] + gaps("#F0DFF2",.7),
                        [(SPECK_T,"#C8504F",6),(SPECK_MIX,"#E8503C",7),(SPECK_MIX[::-1][:8],"#7FA8D8",7)])
for s, x, y, bg in A_LABELS:
    annos.append(dict(x=x, y=y, xref=xa_a, yref=ya_a, text=f"<b>{s}</b>", showarrow=False, font=dict(size=30, color="black", family=FONT),
                      bgcolor="rgba(255,255,255,0.72)" if bg else "rgba(0,0,0,0)", borderpad=6))
umap_panel(1385, 1931, 80, 624, CLUSTER_B, OVER_B, [(SPECK_T,"#FC8D62",5),(SPECK_ALL,"#8DBE8A",5)], lw=3)
umap_panel(1385, 1931, 667, 1213, CLUSTER_C, OVER_C, [(SPECK_ALL[5:],"#7C6A80",5)], lw=3)
umap_panel(2175, 2722, 80, 624, CLUSTER_D, OVER_D, [(SPECK_ALL,"#C79AA8",5),(SPECK_T,"#B8283C",4)], lw=3)
umap_panel(2175, 2722, 667, 1213, CLUSTER_E, OVER_E, [(SPECK_ALL,"#EFA79A",5),(SPECK_T,"#EE6A55",6)], lw=3)

text(72, 44, "Skin scRNA−seq", 39)
text(72, 95, "76 Skin biopsies (58 lesional, 6 non−lesional, 12 healthy)", 31.5)
for s, x, y in [("A",4,32),("B",1340,32),("C",1340,648),("D",2124,32),("E",2124,648),("F",2891,32),("G",4,1281),("H",4,1850),("I",4,2397),("J",4,3239)]:
    text(x, y, s, 52, bold=True)

text(1105, 71, "Cell Types", 32.5)
for name, col, y in zip(CELL_NAMES, CELL_COLORS, [127,176,225,273,321,369,418,467,515,563,611,660,708,757]):
    circle(1129, y, 24, col)
    text(1171, y, name, 27)
text(1911, 73, "Study", 32.5)
for (name, col), y in zip(LEG_STUDY, [127,176,224,273,321,369]):
    circle(1934, y, 24, col)
    text(1976, y, name, 27)
text(1911, 671, "Biopsy", 32.5)
for (name, col), y in zip(LEG_BIOPSY, [727,776,824]):
    circle(1934, y, 24, col)
    text(1976, y, name, 27)
text(2657, 73, "T cell clone", 32.5)
for (name, col), y in zip(LEG_CLONE, [127,176]):
    circle(2679, y, 24, col)
    text(2722, y, name, 27)

# KIR3DL2 ramp
xa, ya = new_axes(2722, 2769, 719, 960, dict(**HIDE), dict(**HIDE))
RAMP = list(range(41))
traces.append(go.Heatmap(z=[[v] for v in RAMP], colorscale=[[0,"#D6D6D6"],[.5,"#F29C85"],[1,"#EE2A24"]], showscale=False, hoverinfo="skip", xaxis=xa, yaxis=ya))
for y in (798, 879):
    rect(2722, y-1, 2734, y+1, "white", "white", 0)
    rect(2757, y-1, 2769, y+1, "white", "white", 0)
text(2722, 687, "KIR3DL2", 32.5)
text(2775, 733, "High", 27)
text(2775, 948, "Low", 27)

# ---------- F ----------
xa, ya = new_axes(3178, 3870, 96, 792,
    dict(range=[.42, 12.58], tickvals=list(range(1, 13)), ticktext=DOT_GENES, tickangle=-45, showgrid=True, gridcolor="#EDEDED", gridwidth=3,
         zeroline=False, showline=True, linecolor="#333", linewidth=2.5, mirror=True, ticks="outside", ticklen=9, tickwidth=3, tickcolor="#333",
         tickfont=dict(size=34, color=GRAY, family=FONT)),
    dict(range=[14.57, .43], tickvals=list(range(1, 15)), ticktext=CELL_NAMES, showgrid=True, gridcolor="#EDEDED", gridwidth=3,
         zeroline=False, showline=True, linecolor="#333", linewidth=2.5, mirror=True, ticks="outside", ticklen=9, tickwidth=3, tickcolor="#333",
         tickfont=dict(size=34, color=GRAY, family=FONT)))
dx, dy, ds, dc = [], [], [], []
for r, (prow, erow) in enumerate(zip(DOT_PCT, DOT_EXPR)):
    for c, (p, e) in enumerate(zip(prow, erow)):
        if p is not None:
            dx.append(c+1); dy.append(r+1); ds.append(p); dc.append(e)
RED_SCALE = [[0,"#ffffff"],[.33,"#FBD0BF"],[.66,"#F58E70"],[1,"#ED1C24"]]
traces.append(go.Scatter(x=dx, y=dy, mode="markers", xaxis=xa, yaxis=ya, hoverinfo="skip",
    marker=dict(size=ds, sizemode="area", sizeref=1/14, color=dc, cmin=0, cmax=1, colorscale=RED_SCALE, showscale=False, opacity=1, line=dict(color="#555", width=2))))
traces.append(go.Scatter(x=[3.5, 3.5], y=[.43, 14.57], mode="lines", line=dict(color="#555", width=3.5, dash="16px,12px"), hoverinfo="skip", xaxis=xa, yaxis=ya))
xa, ya = new_axes(3181, 3477, 1103, 1163, dict(**HIDE), dict(**HIDE))
traces.append(go.Heatmap(z=[RAMP], colorscale=RED_SCALE, showscale=False, hoverinfo="skip", xaxis=xa, yaxis=ya))
for x in (3231, 3293, 3354, 3415):
    rect(x-1, 1103, x+1, 1115, "white", "white", 0)
    rect(x-1, 1151, x+1, 1163, "white", "white", 0)
text(3343, 1028, "Relative Expression", 41, anchor="center")
text(3170, 1076, "Low", 34)
text(3405, 1076, "High", 34)
text(3758, 1028, "% Positive", 41, anchor="center")
text(3639, 1076, "20%", 34)
text(3826, 1076, "80%", 34)
for cx, d in zip((3669, 3730, 3790, 3850), (25, 35, 41, 48)):
    circle(cx, 1122, d, "white", "#555")

# ---------- G, H, I ----------
for g_i, (gene, panels, ticks, tops, ytop, ybot) in enumerate(GENE_ROWS):
    for s_i, rows in enumerate(panels):
        n = len(rows)
        x0, x1 = STUDY_X[s_i]
        xo = dict(range=[.5, n+.5], showgrid=False, zeroline=False, showline=True, mirror=True, linecolor="#222", linewidth=2.5,
                  tickvals=list(range(1, n+1)), showticklabels=False, ticks="outside" if g_i == 2 else "", ticklen=9, tickwidth=3, tickcolor="#222")
        yo = dict(range=[0, tops[s_i]], tickvals=ticks[s_i], showgrid=True, gridcolor="rgba(0,0,0,0.16)", gridwidth=4, zeroline=False,
                  showline=True, mirror=True, linecolor="#222", linewidth=2.5, ticks="outside", ticklen=9, tickwidth=3, tickcolor="#222",
                  tickfont=dict(size=31, color=GRAY, family=FONT))
        xa, ya = new_axes(x0, x1, ytop, ybot, xo, yo)
        if HEALTHY_COUNT[s_i]:
            shapes.append(dict(type="rect", layer="below", xref=xa, yref=f"{ya} domain", x0=.5, x1=.5+HEALTHY_COUNT[s_i], y0=0, y1=1,
                               fillcolor="#E4E2E2", line=dict(color="#9a9a9a", width=1)))
        xs = list(range(1, n+1))
        base = [0.0]*n
        for k, col in enumerate(STACK_COLORS):
            vals = [r[k] if r[k] > 0 else None for r in rows]
            traces.append(go.Bar(x=xs, y=vals, base=list(base), width=.8, marker=dict(color=col, line=dict(color="#151515", width=2)),
                                 name=STACK_NAMES[k], hoverinfo="skip", xaxis=xa, yaxis=ya))
            base = [b + r[k] for b, r in zip(base, rows)]
        traces.append(go.Bar(x=xs, y=base, base=[0]*n, width=.8, marker=dict(color="rgba(0,0,0,0)", line=dict(color="#6a6a6a", width=3.5)),
                             hoverinfo="skip", xaxis=xa, yaxis=ya))
text(68, 1290, "RUNX2", 39, bold=True)
text(68, 1856, "MCM7", 39, bold=True)
text(68, 2400, "SHMT2", 39, bold=True)
for s, x in zip(STUDIES, (328, 1096, 1883, 2431, 3088)):
    text(x, 1287, s, 31, bold=True, anchor="center")

# annotation strips
STRIP_BASE = [106, 53, 0]
STRIP_TALL = [44, 45, 44]
for s_i in range(5):
    n = len(SAMPLES[s_i])
    x0, x1 = STUDY_X[s_i]
    xa, ya = new_axes(x0, x1, 2935, 3085,
        dict(range=[.5, n+.5], showgrid=False, zeroline=False, showline=False, tickvals=list(range(1, n+1)), ticktext=SAMPLES[s_i], tickangle=-90,
             ticks="outside", ticklen=9, tickwidth=3, tickcolor="#222", tickfont=dict(size=28, color=GRAY, family=FONT)),
        dict(range=[0, 150], **HIDE))
    xs = list(range(1, n+1))
    for codes, pal, b, t in zip((STAGE_ROWS[s_i], LESION_ROWS[s_i], SITE_ROWS[s_i]), (STAGE, LESION, SITE), STRIP_BASE, STRIP_TALL):
        traces.append(go.Bar(x=xs, y=[t]*n, base=[b]*n, width=1, marker=dict(color=[pal[c] for c in codes], line=dict(color="#333", width=1)),
                             hoverinfo="skip", xaxis=xa, yaxis=ya))
text(3408, 2957, "CTCL Stage", 41)
text(3408, 3010, "Lesion type", 41)
text(3408, 3063, "Biopsy site", 41)

# cell type keys
text(3468, 1308, "Cell Type", 40)
for i, (name, col) in enumerate(zip(CELL_NAMES, CELL_COLORS)):
    yc = 1378 + i*60.1
    rect(3468, yc-30, 3525, yc+30, col, "#555", 2.5)
    text(3548, yc, name, 33.5)

# bottom keys
def key_column(x0, y0, entries, tx):
    for i, (name, col) in enumerate(entries):
        rect(x0, y0+i*59.8, x0+59, y0+(i+1)*59.8, col, "#444", 2)
        text(tx, y0+(i+.5)*59.8, name, 33.5)
text(1715, 3268, "CTCL Stage", 40)
key_column(1718, 3316, [("Healthy",STAGE["H"]),("IA",STAGE["IA"]),("IB",STAGE["IB"]),("II",STAGE["II"]),("IIB",STAGE["IIB"])], 1800)
key_column(1951, 3316, [("IIIA",STAGE["IIIA"]),("IIIB",STAGE["IIIB"]),("IVA",STAGE["IVA"]),("IVB",STAGE["IVB"])], 2034)
text(2305, 3268, "Lesion type", 40)
key_column(2307, 3316, [("Non−lesional",LESION["NL"]),("Healthy",LESION["H"]),("Patch",LESION["P"]),("Patch/Plaque",LESION["PP"])], 2389)
key_column(2640, 3316, [("Plaque",LESION["PQ"]),("Tumor",LESION["T"]),("Erythroderma",LESION["E"])], 2721)
text(3068, 3268, "Biopsy site", 40)
key_column(3068, 3316, [("Lesional",SITE["L"]),("Non−lesional",SITE["NL"]),("Healthy",SITE["H"])], 3150)

# ---------- J ----------
J_SPEC = [("RUNX2", RUNX2_POINTS, RUNX2_BOX, [0,50,100,150], [-8.3,177], 165, 518, 342),
          ("MCM7", MCM7_POINTS, MCM7_BOX, [0,50,100,150,200,250], [-11.9,251.8], 602, 955, 777),
          ("SHMT2", SHMT2_POINTS, SHMT2_BOX, [0,50,100,150,200], [-11.5,245], 1037, 1389, 1214)]
for gene, pts, bx, yt, yr, x0, x1, tx in J_SPEC:
    xa, ya = new_axes(x0, x1, 3309, 3960,
        dict(range=[.39, 4.61], tickvals=[1,2,3,4], ticktext=ROMAN, tickangle=-45, showgrid=False, zeroline=False, showline=True, linecolor="black",
             linewidth=3.5, ticks="outside", ticklen=10, tickwidth=3, tickcolor="#333", tickfont=dict(size=32, color=GRAY, family=FONT)),
        dict(range=yr, tickvals=yt, showgrid=False, zeroline=False, showline=True, linecolor="black", linewidth=3.5, ticks="outside", ticklen=8,
             tickwidth=3, tickcolor="#333", tickfont=dict(size=32, color=GRAY, family=FONT)))
    traces.append(go.Box(x=[1,2,3,4], q1=bx["q1"], median=bx["med"], q3=bx["q3"], lowerfence=bx["lo"], upperfence=bx["hi"], width=.78, whiskerwidth=0,
                         boxpoints=False, fillcolor="rgba(255,255,255,0)", line=dict(color="black", width=3), hoverinfo="skip", xaxis=xa, yaxis=ya))
    mx, my = [], []
    for i, m in enumerate(bx["med"]):
        mx += [i+1-.39, i+1+.39, None]
        my += [m, m, None]
    traces.append(go.Scatter(x=mx, y=my, mode="lines", line=dict(color="black", width=7), hoverinfo="skip", xaxis=xa, yaxis=ya))
    traces.append(go.Scatter(x=[p[0]+p[1] for p in pts], y=[p[2] for p in pts], mode="markers", hoverinfo="skip", xaxis=xa, yaxis=ya,
                             marker=dict(size=15, color=[LESION[p[3]] for p in pts], line=dict(color="#222", width=2))))
    text(tx, 3280, gene, 35, bold=True, anchor="center")
text(73, 3634, "Malignant expression (tpm)", 34.5, anchor="center", angle=-90)
text(778, 4038, "CTCL stage", 35, anchor="center")

layout.update(template="none", width=W, height=H, margin=dict(l=0, r=0, t=0, b=0, pad=0), paper_bgcolor="white", plot_bgcolor="rgba(0,0,0,0)", showlegend=False,
              barmode="overlay", font=dict(family=FONT), shapes=shapes, annotations=annos)
fig = go.Figure(data=traces, layout=layout)
fig.write_html("out.html", config={"displayModeBar": False}, post_script="document.body.style.margin='0';")
